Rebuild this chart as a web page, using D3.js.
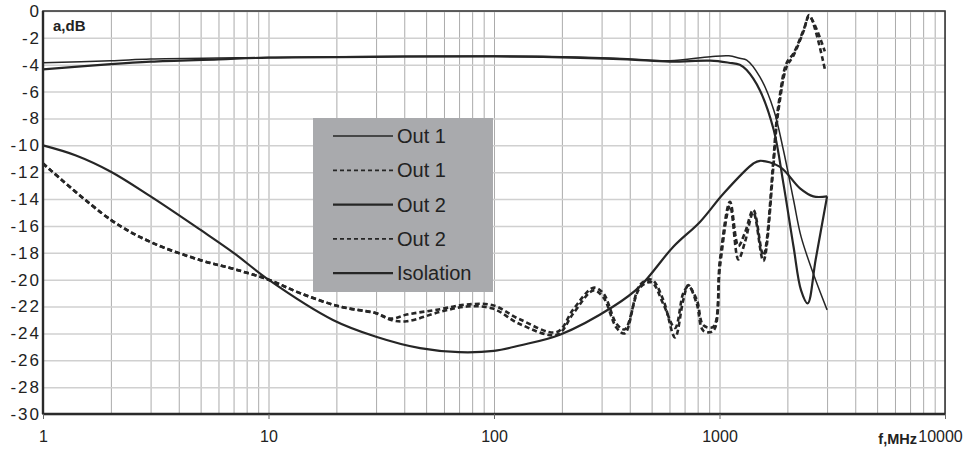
<!DOCTYPE html>
<html>
<head>
<meta charset="utf-8">
<title>a,dB / f,MHz</title>
<script src="https://d3js.org/d3.v7.min.js"></script>
<style>
	body { margin: 0; background: #fff; }
	text { font-family: "Liberation Sans", Arial, Helvetica, sans-serif; fill: #222; }
	.grid-h line { stroke: #d0d0d0; stroke-width: 1.5px; }
	.grid-v line { stroke: #ababab; stroke-width: 1px; }
	.curve { fill: none; stroke: #262626; stroke-linejoin: round; }
</style>
</head>
<body>
<svg id="chart" width="970" height="450"></svg>
<script>
// tick labels
var xTicks = [1, 10, 100, 1000, 10000];
var yTicks = [0, -2, -4, -6, -8, -10, -12, -14, -16, -18, -20, -22, -24, -26, -28, -30];

// Out 1 / Out 2 transmission (solid)
var out1Freq  = [1, 2, 3, 6, 10, 40, 100, 200, 390, 600, 910, 1100, 1230, 1320, 1510, 1740, 1920, 2130, 2300, 2600, 3000];
var out1Solid = [-3.85, -3.7, -3.57, -3.5, -3.47, -3.37, -3.35, -3.4, -3.55, -3.7, -3.4, -3.33, -3.52, -3.65, -4.9, -7.37, -10.35, -14.07, -16.8, -19.5, -22.25];
var out2Freq  = [1, 2, 3, 6, 10, 40, 100, 200, 390, 600, 910, 1100, 1230, 1320, 1510, 1740, 1920, 2130, 2300, 2460, 2670, 3000];
var out2Solid = [-4.35, -3.95, -3.77, -3.6, -3.47, -3.4, -3.38, -3.45, -3.6, -3.77, -3.7, -3.85, -4.0, -4.4, -5.9, -8.86, -12.83, -17.55, -20.8, -21.77, -18.5, -13.8];

// Out 1 / Out 2 return loss (dashed)
var rlFreq     = [1, 2, 3, 5, 7, 10, 13.8, 20.7, 30, 35, 41, 57.6, 75.6, 98.8, 130, 190, 225, 276, 305, 350, 380, 444, 500, 563, 635, 691, 727, 793, 848, 939, 1005, 1113, 1212, 1297, 1413, 1564, 1733, 1780, 1840, 1980, 2130, 2360, 2500, 2930];
var out1Dashed = [-11.35, -15.55, -17.2, -18.55, -19.2, -20.0, -21.0, -22.0, -22.5, -22.9, -22.6, -22.2, -21.85, -21.9, -22.95, -23.9, -22.2, -20.6, -21.0, -23.3, -23.7, -20.6, -20.2, -21.8, -23.6, -21.0, -20.5, -21.5, -23.4, -23.5, -18.5, -14.2, -17.5, -16.5, -14.8, -18.2, -11.1, -8.6, -6.6, -3.9, -3.15, -1.4, -0.4, -3.0];
var out2Dashed = [-11.35, -15.55, -17.2, -18.55, -19.2, -20.0, -21.0, -22.0, -22.5, -23.0, -23.1, -22.4, -22.0, -22.15, -23.3, -24.1, -22.5, -20.8, -21.3, -23.6, -24.0, -20.4, -20.0, -21.5, -24.3, -21.5, -20.4, -21.8, -23.8, -23.8, -19.0, -14.5, -18.5, -17.2, -15.0, -18.6, -11.6, -9.0, -7.0, -4.2, -3.3, -1.5, -0.3, -4.3];

// Isolation
var isoFreq   = [1, 1.4, 2, 3, 5, 7, 10, 19.3, 30, 47, 70, 100, 130, 196, 338, 444, 624, 819, 1040, 1413, 1513, 1855, 2275, 2607, 3000];
var isolation = [-10, -10.75, -11.96, -13.8, -16.3, -18.0, -20, -23.0, -24.25, -25.1, -25.4, -25.3, -24.9, -24.1, -22.0, -20.5, -17.55, -15.7, -13.6, -11.35, -11.15, -11.6, -13.2, -13.8, -13.8];

var series = [
	{ name: "Out 1", f: out1Freq, v: out1Solid, width: 1.5, dash: null },
	{ name: "Out 1", f: rlFreq, v: out1Dashed, width: 2.6, dash: "5,3" },
	{ name: "Out 2", f: out2Freq, v: out2Solid, width: 2.2, dash: null },
	{ name: "Out 2", f: rlFreq, v: out2Dashed, width: 2.6, dash: "5,3" },
	{ name: "Isolation", f: isoFreq, v: isolation, width: 2.2, dash: null }
];

var margin = { top: 11, right: 25, bottom: 36, left: 43 };
var width = 970 - margin.left - margin.right;
var height = 450 - margin.top - margin.bottom;

var svg = d3.select("#chart");
var g = svg.append("g").attr("transform", "translate(" + margin.left + "," + margin.top + ")");

var x = d3.scaleLog().domain([1, 10000]).range([0, width]);
var y = d3.scaleLinear().domain([-30, 0]).range([height, 0]);

// grid: every 1..9 per decade, and every 2 dB
var minor = [];
xTicks.forEach(function(t) {
	for (var k = 1; k < 10; k++) if (t * k <= 10000) minor.push(t * k);
});
g.append("g").attr("class", "grid-v")
	.call(d3.axisBottom(x).tickValues(minor).tickSize(height).tickFormat(""))
	.call(function(s) { s.select(".domain").remove(); });
g.append("g").attr("class", "grid-h")
	.call(d3.axisLeft(y).tickValues(yTicks).tickSize(-width).tickFormat(""))
	.call(function(s) { s.select(".domain").remove(); });

// curves
var line = d3.line()
	.x(function(d) { return x(d[0]); })
	.y(function(d) { return y(d[1]); })
	.curve(d3.curveCatmullRom.alpha(0.5));

series.forEach(function(s) {
	g.append("path")
		.datum(d3.zip(s.f, s.v))
		.attr("class", "curve")
		.attr("stroke-width", s.width)
		.attr("stroke-dasharray", s.dash)
		.attr("d", line);
});

// frame
g.append("rect").attr("width", width).attr("height", height)
	.attr("fill", "none").attr("stroke", "#3a3a3a").attr("stroke-width", 1.6);
g.append("line").attr("x1", 0).attr("x2", 0).attr("y1", 0).attr("y2", height)
	.attr("stroke", "#2a2a2a").attr("stroke-width", 2.4);
g.append("line").attr("x1", 0).attr("x2", width).attr("y1", height).attr("y2", height)
	.attr("stroke", "#2a2a2a").attr("stroke-width", 2.4);

// axes
var xAxis = g.append("g").attr("transform", "translate(0," + height + ")")
	.call(d3.axisBottom(x).tickValues(xTicks).tickSize(5).tickPadding(12).tickFormat(function(d) { return String(d); }));
xAxis.select(".domain").remove();
xAxis.selectAll("line").attr("stroke", "#666");
xAxis.selectAll("text").attr("font-size", 16).attr("fill", "#222")
	.attr("font-family", "Liberation Sans, Arial, sans-serif");
xAxis.selectAll("text").filter(function(d) { return d === 10000; }).attr("dx", -5);

var yAxis = g.append("g")
	.call(d3.axisLeft(y).tickValues(yTicks).tickSize(0).tickPadding(2).tickFormat(function(d) { return String(d); }));
yAxis.select(".domain").remove();
yAxis.selectAll("text").attr("font-size", 17).attr("fill", "#222")
	.attr("letter-spacing", 2)
	.attr("font-family", "Liberation Sans, Arial, sans-serif");

// axis titles
g.append("text").attr("x", 10).attr("y", 20)
	.attr("font-size", 15).attr("font-weight", "bold").text("a,dB");
svg.append("text").attr("x", 917).attr("y", 444).attr("text-anchor", "end")
	.attr("font-size", 14.5).attr("font-weight", "bold").text("f,MHz");

// legend
var legend = svg.append("g").attr("transform", "translate(313,118)");
legend.append("rect").attr("width", 180).attr("height", 174).attr("fill", "#a9aaad");
series.forEach(function(s, i) {
	var ly = 18 + i * 34.3;
	legend.append("line")
		.attr("x1", 20).attr("x2", 80).attr("y1", ly).attr("y2", ly)
		.attr("stroke", "#262626").attr("stroke-width", s.dash ? 1.8 : s.width)
		.attr("stroke-dasharray", s.dash ? "4,3" : null);
	legend.append("text").attr("x", 84).attr("y", ly + 7)
		.attr("font-size", 20).text(s.name);
});
</script>
</body>
</html>
